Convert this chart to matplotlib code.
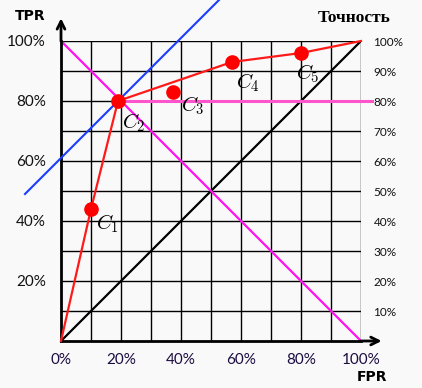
import matplotlib
matplotlib.use('Agg')
import matplotlib.pyplot as plt
import numpy as np

plt.rcParams['mathtext.fontset'] = 'cm'

# ROC curve and classifier points
roc_fpr = [0.0, 0.10, 0.19, 0.57, 0.80, 1.0]
roc_tpr = [0.0, 0.44, 0.80, 0.93, 0.96, 1.0]
pt_fpr = [0.10, 0.19, 0.374, 0.57, 0.80]
pt_tpr = [0.44, 0.80, 0.83, 0.93, 0.96]
pt_names = ['$C_1$', '$C_2$', '$C_3$', '$C_4$', '$C_5$']
lbl_dx = [0.055, 0.052, 0.064, 0.052, 0.021]
lbl_dy = [-0.05, -0.072, -0.045, -0.068, -0.068]

# tangent line (slope 1) through C2
tan_x = [-0.12, 0.70]
tan_b = 0.61

# precision level line
prec_level = 0.80

left_ticks = [0.2, 0.4, 0.6, 0.8, 1.0]
left_labels = ['20%', '40%', '60%', '80%', '100%']
bottom_ticks = [0.0, 0.2, 0.4, 0.6, 0.8, 1.0]
bottom_labels = ['0%', '20%', '40%', '60%', '80%', '100%']
right_ticks = [0.1, 0.2, 0.3, 0.4, 0.5, 0.6, 0.7, 0.8, 0.9, 1.0]
right_labels = ['10%', '20%', '30%', '40%', '50%', '60%', '70%', '80%', '90%', '100%']

bg = '#f9f9f9'
fig = plt.figure(figsize=(4.22, 3.88), dpi=100, facecolor=bg)
ax = fig.add_axes([61/422, 47/388, 300/422, 300/388])
ax.set_facecolor(bg)
ax.set_xlim(0, 1)
ax.set_ylim(0, 1)

# grid
for g in np.arange(0.1, 1.01, 0.1):
    ax.axhline(g, color='black', lw=1.0, zorder=1)
    ax.axvline(g, color='black', lw=1.0, zorder=1)

for s in ['top', 'right']:
    ax.spines[s].set_visible(False)
for s in ['left', 'bottom']:
    ax.spines[s].set_linewidth(2)

# diagonals
ax.plot([0, 1], [0, 1], color='black', lw=1.6, zorder=2)
ax.plot([0, 1], [1, 0], color='#ff11ee', lw=1.6, zorder=2)
ax.plot([pt_fpr[1], 1.035], [prec_level, prec_level], color='#ff55cc', lw=2.2,
        zorder=2, clip_on=False)
ax.plot(tan_x, [x + tan_b for x in tan_x], color='#1a3cff', lw=1.5, zorder=3,
        clip_on=False)

# ROC
ax.plot(roc_fpr, roc_tpr, color='#ff1a1a', lw=1.6, zorder=4, clip_on=False)
ax.plot(pt_fpr, pt_tpr, 'o', color='#ff0000', ms=9.5, zorder=5)
for x, y, n, dx, dy in zip(pt_fpr, pt_tpr, pt_names, lbl_dx, lbl_dy):
    ax.text(x + dx, y + dy, n, fontsize=15, ha='center', va='center', zorder=6)

# axis arrows
ax.annotate('', xy=(0, 1.085), xytext=(0, 0.99), annotation_clip=False,
            arrowprops=dict(arrowstyle='->', lw=2, color='black', mutation_scale=14))
ax.annotate('', xy=(1.078, 0), xytext=(0.99, 0), annotation_clip=False,
            arrowprops=dict(arrowstyle='->', lw=2, color='black', mutation_scale=14))

tick_font = 'Lato'
ax.set_xticks(bottom_ticks)
ax.set_xticklabels(bottom_labels, fontsize=11, color='#1c0c40', family=tick_font)
ax.set_yticks(left_ticks)
ax.set_yticklabels(left_labels, fontsize=11, color='#111111', family=tick_font)
ax.tick_params(length=0, pad=11, axis='y')
ax.tick_params(length=0, pad=9, axis='x')

ax2 = ax.twinx()
ax2.set_ylim(0, 1)
ax2.set_yticks(right_ticks)
ax2.set_yticklabels(right_labels, fontsize=8.5, color='#111111', family=tick_font)
ax2.tick_params(length=0, pad=9)
for s in ax2.spines.values():
    s.set_visible(False)

fig.text(30/422, 1 - 16/388, 'TPR', fontsize=10, fontweight='bold', ha='center',
         va='center', family='DejaVu Sans')
fig.text(372/422, 1 - 377/388, 'FPR', fontsize=10, fontweight='bold', ha='center',
         va='center', family='DejaVu Sans')
fig.text(354/422, 1 - 18/388, 'Точность', fontsize=12.5, fontweight='bold', ha='center',
         va='center', family='Liberation Serif')

fig.savefig('out.png', dpi=100, facecolor=bg)
